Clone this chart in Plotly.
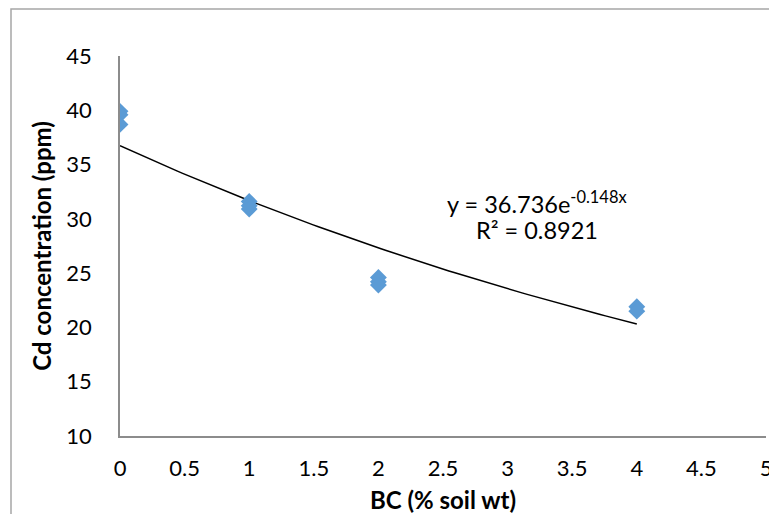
import numpy as np
import plotly.graph_objects as go

# Data
bc_x = [0, 0, 0, 1, 1, 1, 2, 2, 2, 4, 4]
cd_y = [39.9, 39.6, 38.7, 31.6, 31.2, 30.9, 24.6, 24.2, 23.9, 21.9, 21.5]

# Exponential trendline coefficients (from chart label)
fit_a = 36.736
fit_b = -0.148
fit_r2 = 0.8921

x_ticks = [0, 0.5, 1, 1.5, 2, 2.5, 3, 3.5, 4, 4.5, 5]
y_ticks = [10, 15, 20, 25, 30, 35, 40, 45]

FONT = "Lato, Carlito, Calibri, sans-serif"

tx = np.linspace(min(bc_x), max(bc_x), 100)
ty = fit_a * np.exp(fit_b * tx)

fig = go.Figure()
fig.add_trace(go.Scatter(
    x=tx, y=ty, mode="lines",
    line=dict(color="black", width=1.5),
    hoverinfo="skip", showlegend=False,
))
fig.add_trace(go.Scatter(
    x=bc_x, y=cd_y, mode="markers",
    marker=dict(symbol="diamond", size=13, color="#5B9BD5"),
    showlegend=False,
))

fig.add_annotation(
    x=3.23, y=31.55, xref="x", yref="y", showarrow=False,
    text=f"y = {fit_a:.3f}e<sup>{fit_b:.3f}x</sup>",
    font=dict(family=FONT, size=23.5, color="black"),
)
fig.add_annotation(
    x=3.23, y=28.95, xref="x", yref="y", showarrow=False,
    text=f"R² = {fit_r2:.4f}",
    font=dict(family=FONT, size=23.5, color="black"),
)

# page body has an 8px margin; figure fits inside the 777x522 window
W, H = 769, 506
L, R, T, B = 112, 11, 48, 78
pw = W - L - R
ph = H - T - B

# outer chart border (left/top visible, right/bottom cropped)
fig.add_shape(
    type="rect", xref="paper", yref="paper",
    x0=(3 - L) / pw, x1=1.2, y0=-0.5, y1=1 + (T - 1) / ph,
    line=dict(color="#A6A6A6", width=1.5), fillcolor="rgba(0,0,0,0)",
    layer="below",
)

fig.update_layout(
    width=W, height=H,
    margin=dict(l=L, r=R, t=T, b=B, autoexpand=False),
    paper_bgcolor="white", plot_bgcolor="white",
    font=dict(family=FONT, size=22, color="black"),
    xaxis=dict(
        range=[0, 5], tickvals=x_ticks,
        ticktext=[f"{v:g}" for v in x_ticks],
        showgrid=False, zeroline=False, automargin=False,
        showline=True, linecolor="#8C8C8C", linewidth=1.5,
        ticks="", ticklabelstandoff=12,
        title=dict(text="<b>BC (% soil wt)</b>", standoff=16,
                   font=dict(family=FONT, size=24)),
    ),
    yaxis=dict(
        range=[10, 45], tickvals=y_ticks,
        showgrid=False, zeroline=False, automargin=False,
        showline=True, linecolor="#8C8C8C", linewidth=1.5,
        ticks="", ticklabelstandoff=22,
        title=dict(text="<b>Cd concentration (ppm)</b>", standoff=8,
                   font=dict(family=FONT, size=24)),
    ),
)

fig.write_html("out.html")
